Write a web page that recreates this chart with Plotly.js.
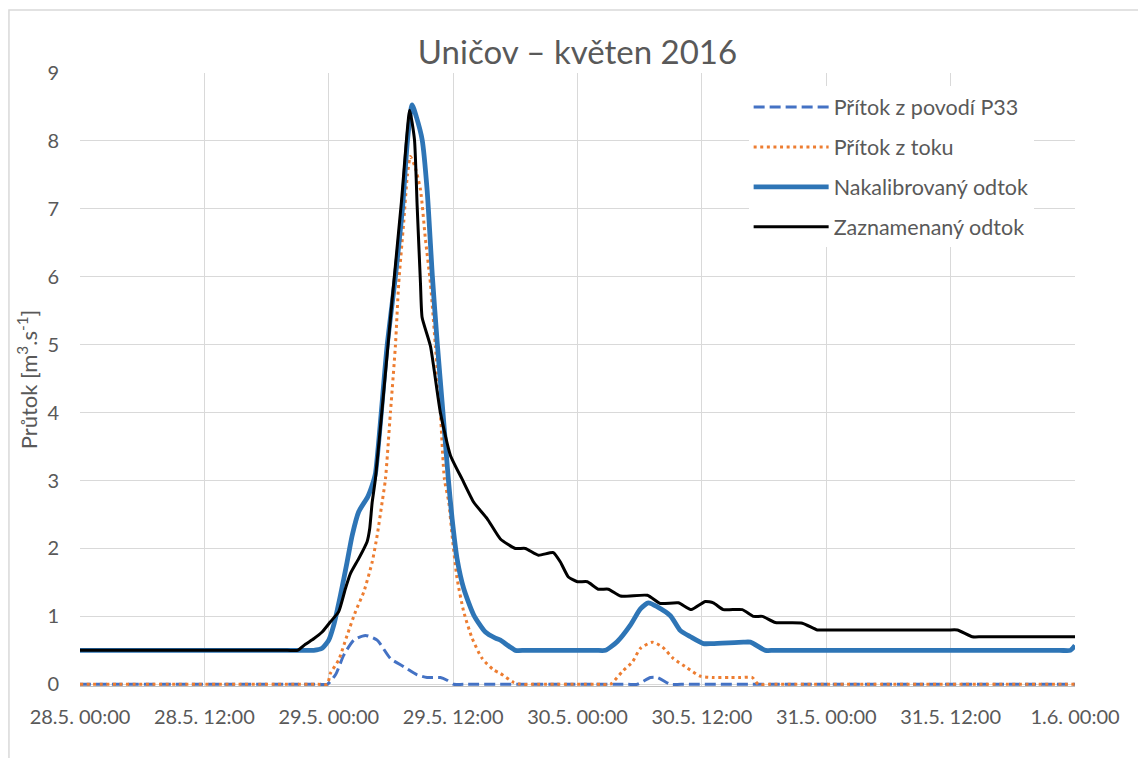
<!DOCTYPE html>
<html>
<head>
<meta charset="utf-8">
<script src="https://cdn.plot.ly/plotly-3.0.1.min.js"></script>
<style>
  html, body { margin: 0; padding: 0; background: #ffffff; }
  #chart { width: 1138px; height: 758px; }
</style>
</head>
<body>
<div id="chart"></div>
<script>
// Time axis: hours since 28.5.2016 00:00
const xTickVals = [0, 12, 24, 36, 48, 60, 72, 84, 96];
const xTickText = ["28.5. 00:00", "28.5. 12:00", "29.5. 00:00", "29.5. 12:00",
                   "30.5. 00:00", "30.5. 12:00", "31.5. 00:00", "31.5. 12:00", "1.6. 00:00"];

// Přítok z povodí P33
const hoursP33 = [0, 1, 23, 23.85, 24.65, 25.45, 26.41, 27.54, 28.67, 29.95, 31.23, 32.53, 33.49, 34.77, 35.42, 36.06, 37, 52.8, 53.78, 55.04, 55.71, 56.96, 58, 95, 96];
const valuesP33 = [0, 0, 0, 0, 0.14, 0.43, 0.65, 0.72, 0.65, 0.38, 0.26, 0.14, 0.1, 0.1, 0.06, 0, 0, 0, 0, 0.1, 0.1, 0, 0, 0, 0];

// Přítok z toku
const hoursTok = [0, 1, 23, 23.85, 24.16, 24.96, 25.77, 26.58, 27.38, 28.19, 28.67, 29.15, 29.47, 29.95, 30.43, 30.75, 31.23, 31.59, 31.88, 32.36, 32.85, 33.33, 33.81, 34.29, 34.77, 35.16, 35.58, 35.9, 36.38, 37.02, 37.83, 38.8, 39.92, 40.56, 41.82, 42.49, 43.5, 50.2, 51.17, 52.33, 53.3, 54.07, 55.23, 56.19, 57.25, 58.6, 59.85, 61, 62.7, 63.71, 64.87, 65.45, 66.5, 95, 96];
const valuesTok = [0, 0, 0, 0, 0.16, 0.36, 0.72, 1.07, 1.36, 1.8, 2.19, 2.68, 3.02, 4.0, 4.98, 5.9, 6.8, 7.5, 7.77, 7.6, 7.28, 6.55, 5.9, 4.98, 4.0, 3.02, 2.68, 2.19, 1.56, 1.07, 0.68, 0.38, 0.21, 0.16, 0.03, 0, 0, 0, 0, 0.19, 0.33, 0.53, 0.62, 0.55, 0.38, 0.24, 0.12, 0.1, 0.1, 0.1, 0.1, 0, 0, 0, 0];

// Nakalibrovaný odtok
const hoursKalib = [0, 1, 21.5, 22.55, 23.36, 24.0, 24.48, 25.13, 25.77, 26.26, 26.89, 27.76, 28.19, 28.5, 29.63, 30.43, 31.11, 31.59, 32.04, 32.46, 33.01, 33.49, 34.0, 34.48, 35.02, 35.55, 35.9, 36.38, 37.02, 37.99, 39.11, 40.08, 40.56, 42.01, 43, 49.7, 50.7, 51.85, 53.1, 54.07, 54.84, 55.71, 56.96, 57.93, 58.9, 60.15, 61, 64, 64.68, 66.13, 67, 94.5, 95.55, 96];
const valuesKalib = [0.5, 0.5, 0.5, 0.5, 0.53, 0.65, 0.87, 1.31, 1.8, 2.19, 2.54, 2.76, 2.93, 3.1, 4.98, 6.0, 7.0, 8.0, 8.53, 8.35, 8.02, 7.28, 6.0, 5.0, 4.0, 3.0, 2.44, 1.85, 1.41, 1.02, 0.77, 0.68, 0.65, 0.5, 0.5, 0.5, 0.5, 0.63, 0.87, 1.11, 1.2, 1.14, 1.01, 0.79, 0.7, 0.6, 0.6, 0.62, 0.62, 0.5, 0.5, 0.5, 0.5, 0.57];

// Zaznamenaný odtok
const hoursZazn = [0, 1, 20, 21.0, 21.75, 22.55, 23.36, 24.16, 24.96, 25.61, 26.09, 26.89, 27.7, 27.95, 28.19, 28.5, 29.3, 30.14, 31.01, 31.81, 32.27, 32.53, 32.85, 33.01, 33.81, 34.77, 35.74, 36.87, 37.99, 39.28, 40.56, 42.0, 42.97, 44.23, 45.67, 46.35, 47.12, 47.99, 48.95, 50.0, 50.98, 52.14, 54.74, 55.99, 57.73, 58.98, 60.33, 61.1, 62.07, 63.9, 64.97, 65.84, 67.09, 69.69, 71.14, 72, 83.7, 84.65, 86.09, 87, 95, 96];
const valuesZazn = [0.5, 0.5, 0.5, 0.5, 0.59, 0.67, 0.77, 0.92, 1.07, 1.41, 1.63, 1.85, 2.1, 2.29, 2.68, 3.02, 4.3, 5.7, 7.1, 8.45, 8.02, 7.04, 5.9, 5.4, 4.98, 4.0, 3.37, 3.02, 2.68, 2.44, 2.14, 2.0, 2.0, 1.9, 1.94, 1.8, 1.58, 1.51, 1.51, 1.4, 1.4, 1.3, 1.31, 1.19, 1.2, 1.1, 1.22, 1.2, 1.1, 1.1, 1.0, 1.0, 0.91, 0.9, 0.8, 0.8, 0.8, 0.8, 0.7, 0.7, 0.7, 0.7];

const FONT = "Lato, 'Liberation Sans', Arial, sans-serif";
const GREY = "#595959";

const traces = [
  { x: hoursP33, y: valuesP33, name: "Přítok z povodí P33", type: "scatter", mode: "lines",
    legendgroup: "a",
    line: { color: "#4472C4", width: 3, dash: "11px,5px", shape: "spline", smoothing: 0.6 } },
  { x: hoursTok, y: valuesTok, name: "Přítok z toku", type: "scatter", mode: "lines",
    legendgroup: "b",
    line: { color: "#ED7D31", width: 3, dash: "3px,3.6px", shape: "spline", smoothing: 0.6 } },
  { x: hoursKalib, y: valuesKalib, name: "Nakalibrovaný odtok", type: "scatter", mode: "lines",
    legendgroup: "c",
    line: { color: "#2E75B6", width: 4.8, shape: "spline", smoothing: 0.6 } },
  { x: hoursZazn, y: valuesZazn, name: "Zaznamenaný odtok", type: "scatter", mode: "lines",
    legendgroup: "d",
    line: { color: "#000000", width: 3, shape: "spline", smoothing: 0.5 } }
];

const layout = {
  width: 1138, height: 758,
  margin: { l: 80, r: 63, t: 73, b: 72 },
  paper_bgcolor: "#ffffff", plot_bgcolor: "#ffffff",
  font: { family: FONT, color: GREY, size: 20 },
  title: { text: "Uničov – květen 2016", font: { family: FONT, size: 33, color: GREY },
           x: 0.5, xref: "paper", xanchor: "center", y: 0.931, yref: "container", yanchor: "middle" },
  xaxis: {
    range: [0, 96], tickmode: "array", tickvals: xTickVals, ticktext: xTickText,
    showgrid: true, gridcolor: "#d9d9d9", gridwidth: 1, zeroline: false,
    showline: true, linecolor: "#bfbfbf", linewidth: 1.2,
    ticks: "", ticklabelstandoff: 13,
    tickfont: { family: FONT, size: 20, color: GREY }, fixedrange: true
  },
  yaxis: {
    range: [-0.025, 9], tickmode: "linear", tick0: 0, dtick: 1,
    showgrid: true, gridcolor: "#d9d9d9", gridwidth: 1, zeroline: false,
    showline: false, ticks: "", ticklabelstandoff: 20,
    tickfont: { family: FONT, size: 20, color: GREY },
    title: { text: "Průtok [m<sup>3</sup>.s<sup>-1</sup>]", font: { family: FONT, size: 22, color: GREY }, standoff: 3 },
    fixedrange: true
  },
  legend: {
    x: 0.672, y: 0.978, xanchor: "left", yanchor: "top",
    bgcolor: "#ffffff", borderwidth: 0,
    font: { family: FONT, size: 21.5, color: GREY },
    tracegroupgap: 9, itemwidth: 75, traceorder: "grouped"
  },
  shapes: [
    { type: "rect", xref: "paper", yref: "paper",
      x0: -0.0714, x1: 1.07, y0: -0.13, y1: 1.1028,
      line: { color: "#d9d9d9", width: 1.5 }, fillcolor: "rgba(0,0,0,0)", layer: "below" }
  ],
  showlegend: true
};

Plotly.newPlot("chart", traces, layout, { displayModeBar: false, staticPlot: true });
</script>
</body>
</html>
